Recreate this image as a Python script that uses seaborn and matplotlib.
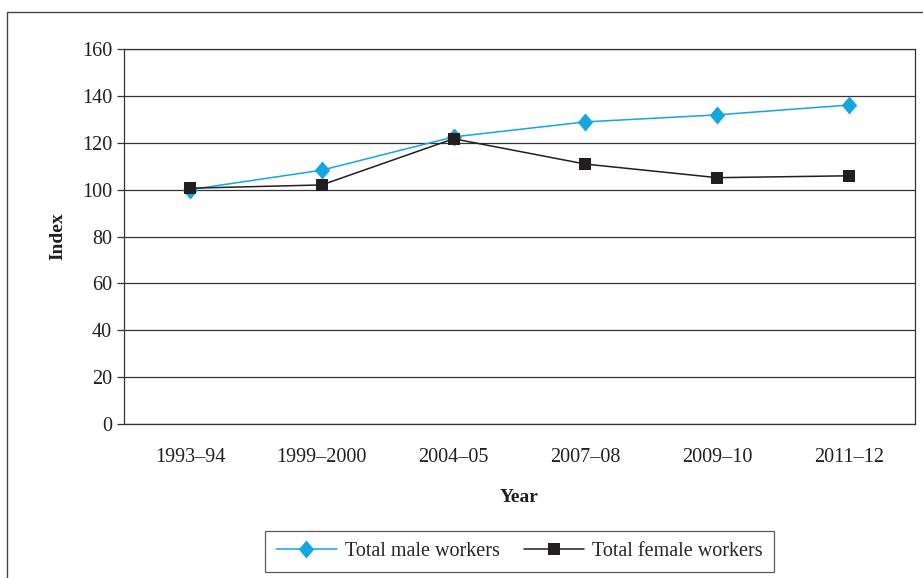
import matplotlib
matplotlib.use("Agg")
import matplotlib.pyplot as plt
from matplotlib.patches import Rectangle
from matplotlib.ticker import MultipleLocator, FixedLocator, NullFormatter
import seaborn as sns
import pandas as pd

years = ["1993–94", "1999–2000", "2004–05", "2007–08", "2009–10", "2011–12"]
male_index = [100, 108.3, 122.5, 128.9, 131.9, 136.1]
female_index = [100.6, 102, 121.7, 110.9, 105.1, 105.9]
series_names = ["Total male workers", "Total female workers"]

df = pd.DataFrame({
    "pos": list(range(len(years))) * 2,
    "Index": male_index + female_index,
    "series": [series_names[0]] * len(years) + [series_names[1]] * len(years),
})

sns.set_theme(style="white")
plt.rcParams["font.family"] = ["Liberation Serif", "DejaVu Serif"]

fig = plt.figure(figsize=(9.23, 5.78), dpi=100)
ax = fig.add_axes([124 / 923, 1 - 424 / 578, (915 - 124) / 923, (424 - 49) / 578])

# outer frame around the whole chart
fig.patches.append(Rectangle((7 / 923, -0.01), 1.0, 1 - 12 / 578 + 0.01,
                             transform=fig.transFigure, fill=False,
                             edgecolor="#444444", linewidth=1.0, zorder=0))

# diamond a little taller than wide
diamond = [(0, 1), (0.85, 0), (0, -1), (-0.85, 0), (0, 1)]

palette = {series_names[0]: "#14a5e3", series_names[1]: "#231f20"}
sns.lineplot(data=df, x="pos", y="Index", hue="series", style="series",
             markers={series_names[0]: diamond, series_names[1]: "s"},
             dashes=False, palette=palette, ax=ax, sort=False,
             markersize=9, markeredgewidth=0, linewidth=1.1)
for line in ax.lines:
    if line.get_color() == "#14a5e3":
        line.set_markersize(13)

ax.set_xlim(-0.5, len(years) - 0.5)
ax.set_ylim(0, 160)
ax.yaxis.set_major_locator(MultipleLocator(20))
ax.grid(axis="y", color="#333333", linewidth=0.9)
ax.set_axisbelow(True)

ax.set_xticks(range(len(years)))
ax.set_xticklabels(years)
ax.xaxis.set_minor_locator(FixedLocator([i - 0.5 for i in range(len(years) + 1)]))
ax.xaxis.set_minor_formatter(NullFormatter())
ax.tick_params(axis="x", which="major", length=0, pad=17, labelsize=14.5, colors="#231f20")
ax.tick_params(axis="x", which="minor", length=5, width=0.9, color="#333333", direction="out")
ax.tick_params(axis="y", which="major", length=5, width=0.9, color="#333333",
               direction="out", labelsize=14.5, colors="#231f20", left=True)

for sp in ax.spines.values():
    sp.set_color("#333333")
    sp.set_linewidth(0.9)

ax.set_xlabel("Year", fontsize=14, fontweight="bold", labelpad=16, color="#231f20")
ax.set_ylabel("Index", fontsize=14, fontweight="bold", labelpad=11, color="#231f20")

leg = ax.legend(loc="upper center", bbox_to_anchor=(0.5, -0.258), ncol=2,
                frameon=True, fancybox=False, fontsize=14.5, handlelength=3,
                columnspacing=1.2, borderpad=0.55, handletextpad=0.4)
leg.get_frame().set_edgecolor("#333333")
leg.get_frame().set_linewidth(0.9)

fig.savefig("out.png", dpi=100)
